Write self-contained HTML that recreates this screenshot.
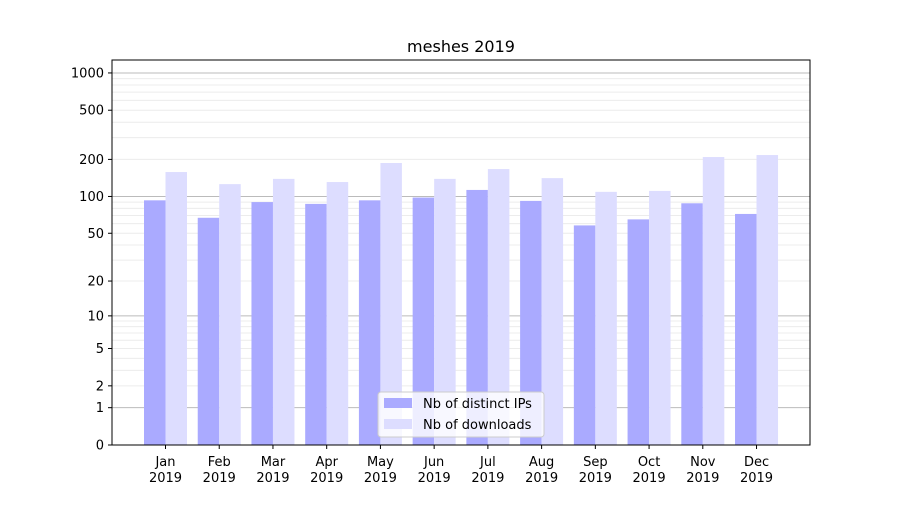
<!DOCTYPE html>
<html><head><meta charset="utf-8"><style>
body{margin:0;background:#fff;}
svg{font-family:"DejaVu Sans","Liberation Sans",sans-serif;}
</style></head><body>
<svg id="chart" width="900" height="500">
<rect width="900" height="500" fill="#fff"/>
<g id="grid"></g>
<g id="bars"></g>
<rect x="112" y="60" width="698" height="385" fill="none" stroke="#000" stroke-width="1"/>
<g id="yaxis"></g>
<g id="xaxis"></g>
<text x="461" y="52" text-anchor="middle" font-size="16">meshes 2019</text>
<g>
<rect x="378" y="392" width="166" height="45" rx="3" fill="#fff" fill-opacity="0.8" stroke="#ccc"/>
<g>
<rect x="384" y="398" width="28" height="10" fill="#aaaaff"/>
<text x="423" y="408" font-size="13">Nb of distinct IPs</text></g>
<g>
<rect x="384" y="419" width="28" height="10" fill="#ddddff"/>
<text x="423" y="429" font-size="13">Nb of downloads</text></g>
</g>
</svg>
<script>
const months = ["Jan","Feb","Mar","Apr","May","Jun","Jul","Aug","Sep","Oct","Nov","Dec"];
const ips = [93,67,90,87,93,98,113,92,58,65,88,72];
const downloads = [158,126,139,131,187,139,167,141,109,111,209,217];
const yTicks = [0,1,2,5,10,20,50,100,200,500,1000];
const NS="http://www.w3.org/2000/svg";
function y(v){return 445-124*Math.log10(v+1);}
function xc(i){return 165.5+53.73*i;}
const bw=21.5;
function mk(tag,attrs,parent){const e=document.createElementNS(NS,tag);for(const k in attrs)e.setAttribute(k,attrs[k]);parent.appendChild(e);return e;}
const grid=document.getElementById('grid');
for(let d=1;d<=1000;d*=10){for(let m=1;m<10;m++){const v=d*m;if(y(v)<60)continue;
const l=mk('line',{x1:112,x2:810,y1:y(v),y2:y(v),stroke:m===1?'#bbbbbb':'#ececec','stroke-width':1},grid);

}}
const bars=document.getElementById('bars');
months.forEach((m,i)=>{
const a=mk('rect',{x:xc(i)-bw,y:y(ips[i]),width:bw,height:445-y(ips[i]),fill:'#aaaaff'},bars);


const b=mk('rect',{x:xc(i),y:y(downloads[i]),width:bw,height:445-y(downloads[i]),fill:'#ddddff'},bars);


});
const ya=document.getElementById('yaxis');
yTicks.forEach(v=>{
mk('line',{x1:108,x2:112,y1:y(v),y2:y(v),stroke:'#000'},ya);
const t=mk('text',{x:104,y:y(v)+4.5,'text-anchor':'end','font-size':13},ya);
t.textContent=v;


});
const xa=document.getElementById('xaxis');
months.forEach((m,i)=>{
mk('line',{x1:xc(i),x2:xc(i),y1:445,y2:449,stroke:'#000'},xa);
const t=mk('text',{x:xc(i),y:466,'text-anchor':'middle','font-size':13},xa);
t.textContent=m;


const t2=mk('text',{x:xc(i),y:482,'text-anchor':'middle','font-size':13},xa);
t2.textContent='2019';


});
</script>
</body></html>
